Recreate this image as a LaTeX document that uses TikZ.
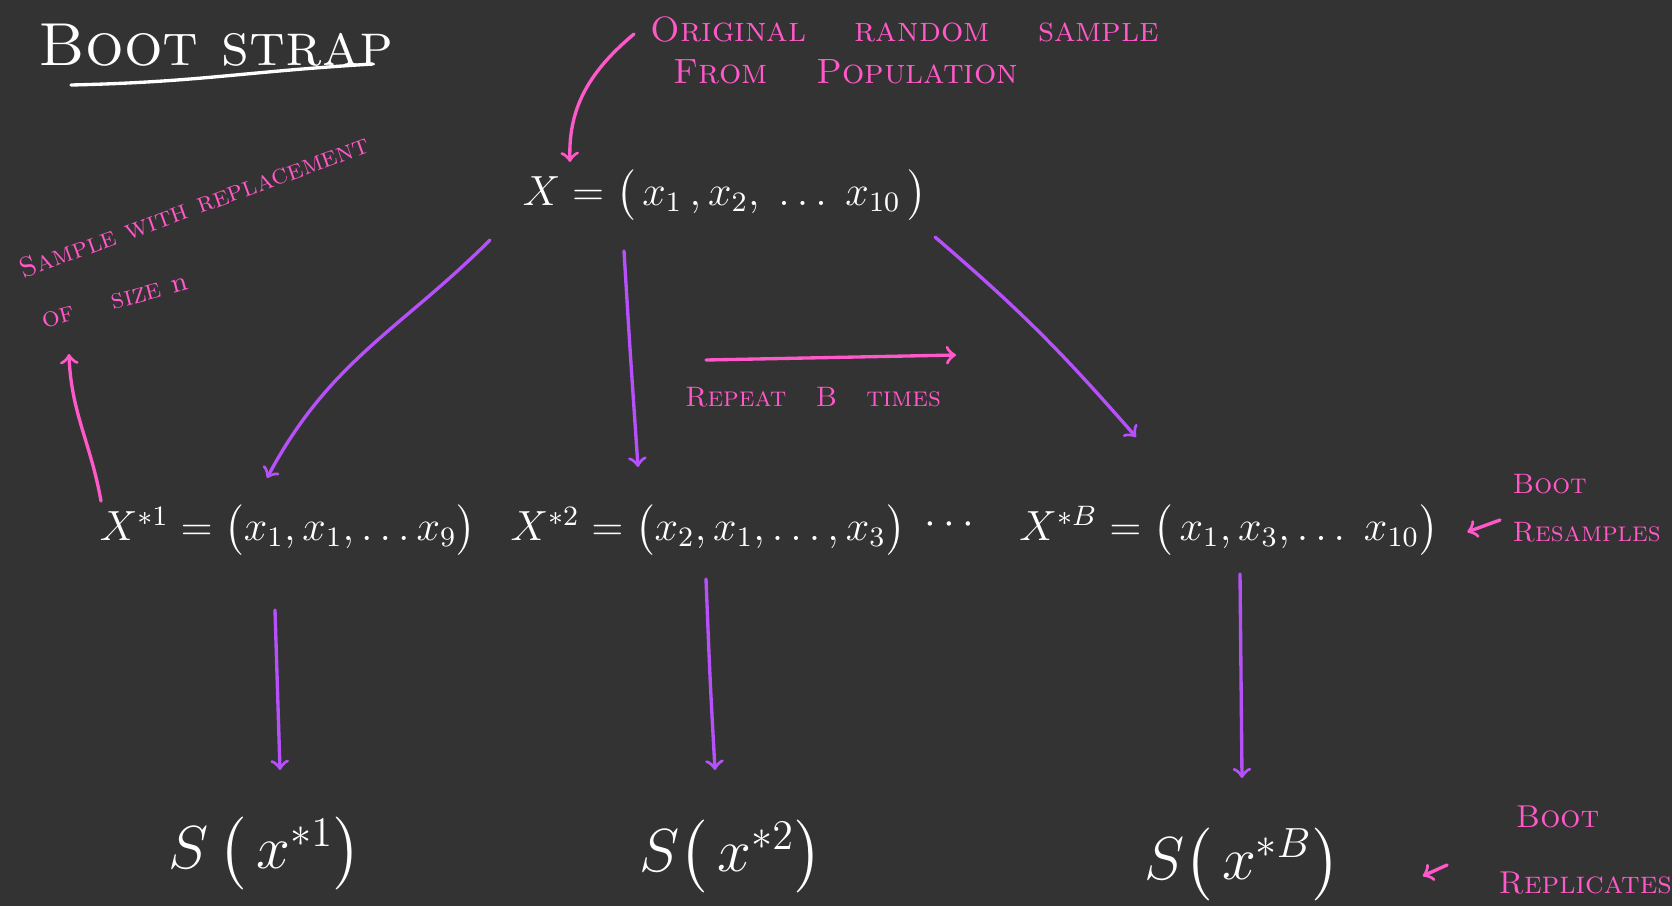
\documentclass[tikz,border=0pt]{standalone}
\usepackage{amsmath}
\usetikzlibrary{positioning}
\usetikzlibrary{calc}
\usetikzlibrary{arrows}

\definecolor{board}{RGB}{51,51,51}
\definecolor{chalkpink}{RGB}{255,88,200}
\definecolor{chalkviolet}{RGB}{182,80,250}

\begin{document}
\begin{tikzpicture}[
    chalk/.style={text=white, inner sep=0pt},
    note/.style={text=chalkpink, inner sep=0pt, font=\normalsize\scshape},
    pinkarrow/.style={draw=chalkpink, line width=0.95pt, -to, line cap=round},
    violetarrow/.style={draw=chalkviolet, line width=0.95pt, -to, line cap=round},
  ]

  \fill [board] (0,0) rectangle (16.72,-9.06);
  \useasboundingbox (0,0) rectangle (16.72,-9.06);

  % title
  \node [chalk, font=\LARGE\scshape] (T) at (2.16,-0.45) {Boot strap};
  \draw [white, line width=0.95pt, line cap=round] (0.71,-0.85) .. controls (2.0,-0.82) and (2.4,-0.72) .. (3.73,-0.64);

  % original sample
  \node [chalk, font=\large] (X) at (7.25,-1.95) {$X = \big(\,x_1\,,x_2,\;\ldots\;x_{10}\,\big)$};
  \node [note, align=left, anchor=west] (orig) at (6.50,-0.50) {Original \quad random \quad sample\\ \; From \quad Population};

  % bootstrap resamples
  \node [chalk, font=\large] (s1) at (2.88,-5.30) {$X^{*1} = \big(x_1, x_1, \ldots x_9\big)$};
  \node [chalk, font=\large] (s2) at (7.08,-5.30) {$X^{*2} = \big(x_2, x_1, \ldots, x_3\big)$};
  \node [chalk, font=\large] (dots) at (9.53,-5.25) {$\cdots$};
  \node [chalk, font=\large] (sB) at (12.29,-5.30) {$X^{*B} = \big(\,x_1, x_3, \ldots\; x_{10}\big)$};
  \node [note, font=\footnotesize\scshape, align=left, anchor=west] (bres) at (15.12,-5.08) {Boot\\[4pt] Resamples};

  % bootstrap replicates
  \node [chalk, font=\LARGE] (r1) at (2.65,-8.53) {$S\,\big(\,x^{*1}\big)$};
  \node [chalk, font=\LARGE] (r2) at (7.31,-8.56) {$S\big(\,x^{*2}\big)$};
  \node [chalk, font=\LARGE] (rB) at (12.42,-8.64) {$S\big(\,x^{*B}\big)$};
  \node [note, font=\small\scshape, align=left, anchor=west] (brep) at (14.98,-8.50) {\, Boot\\[8pt] Replicates};

  % side notes
  \node [note, font=\footnotesize\scshape, rotate=20] (swr) at (1.94,-2.06) {Sample with replacement};
  \node [note, font=\footnotesize\scshape, rotate=15] (size) at (1.15,-3.02) {of \quad size {\normalfont n}};
  \node [note, font=\footnotesize\scshape] (rep) at (8.13,-3.97) {Repeat \; B \; times};
  \coordinate (r0) at (7.06,-3.60);
  \coordinate (r9) at (9.56,-3.55);

  % arrows
  \draw [violetarrow] ($(X)+(-2.35,-0.45)$) .. controls (4.0,-3.3) and (3.3,-3.6) .. ($(s1)+(-0.21,0.52)$);
  \draw [violetarrow] ($(X)+(-1.01,-0.56)$) .. controls (6.30,-3.5) .. ($(s2)+(-0.70,0.63)$);
  \draw [violetarrow] ($(X)+(2.10,-0.42)$) .. controls (10.2,-3.1) and (10.6,-3.5) .. ($(sB)+(-0.93,0.93)$);

  \draw [violetarrow] ($(s1)+(-0.13,-0.80)$) -- ($(r1)+(0.15,0.83)$);
  \draw [violetarrow] ($(s2)+(-0.02,-0.49)$) .. controls (7.10,-6.8) .. ($(r2)+(-0.16,0.86)$);
  \draw [violetarrow] ($(sB)+(0.11,-0.44)$) -- ($(rB)+(0,0.86)$);

  \draw [pinkarrow] ($(orig.west)+(-0.16,0.16)$) to[out=-140, in=92] ($(X)+(-1.55,0.33)$);
  \draw [pinkarrow] ($(s1)+(-1.87,0.29)$) to[out=100, in=-88] ($(size)+(-0.46,-0.52)$);
  \draw [pinkarrow] (r0) -- (r9);
  \draw [pinkarrow] ($(bres.west)+(-0.12,-0.12)$) -- ($(sB.east)+(0.28,-0.02)$);
  \draw [pinkarrow] ($(brep.west)+(-0.51,-0.15)$) -- ($(rB.east)+(0.82,-0.12)$);

\end{tikzpicture}
\end{document}
